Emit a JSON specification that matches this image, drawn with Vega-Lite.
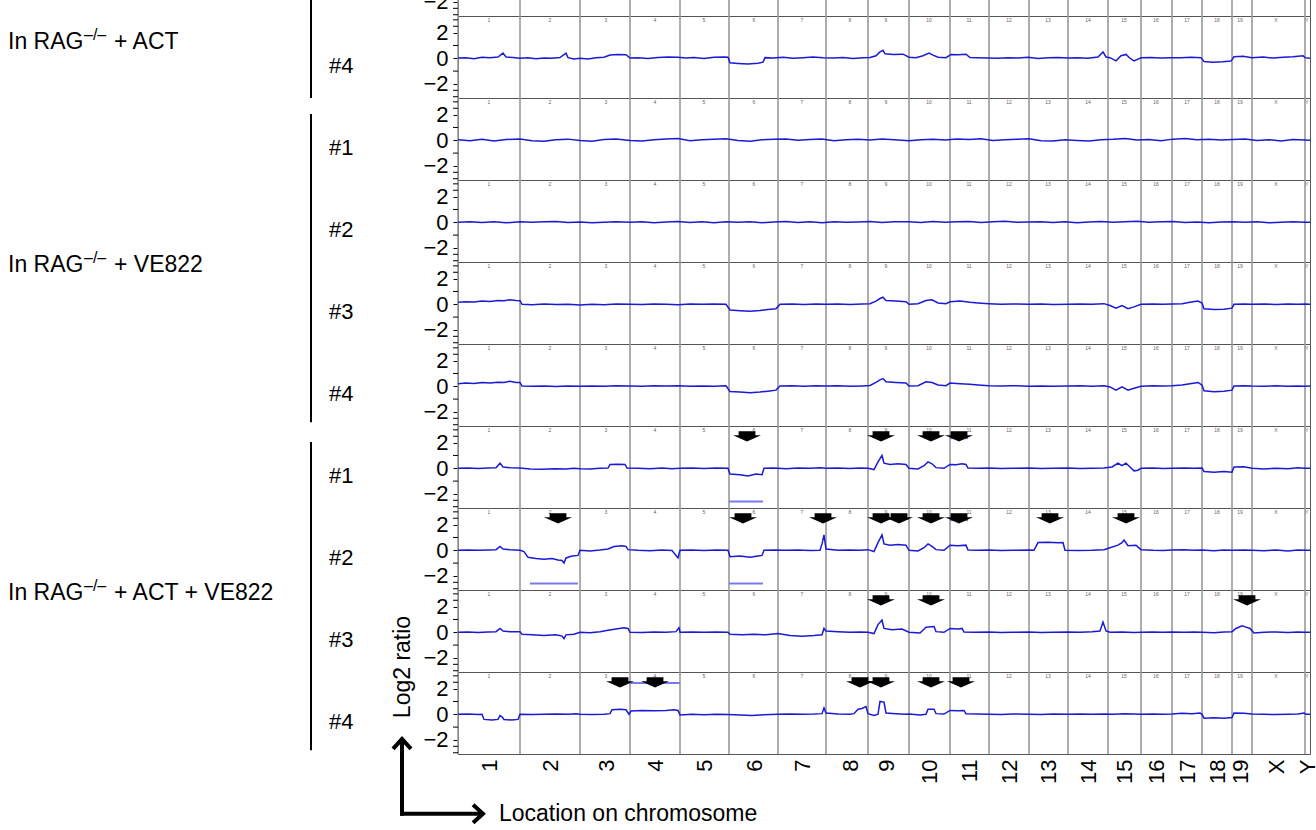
{
"$schema": "https://vega.github.io/schema/vega-lite/v6.json",
"background": "white",
"padding": {"left": 7, "top": -68, "right": 0, "bottom": 0},
"autosize": {"type": "pad"},
"datasets": {
"chroms": [
{"c":"1","s":0,"m":31},{"c":"2","s":62,"m":92},{"c":"3","s":122,"m":148},{"c":"4","s":172,"m":197},{"c":"5","s":222,"m":246},{"c":"6","s":271,"m":296},{"c":"7","s":320,"m":344},{"c":"8","s":368,"m":392},{"c":"9","s":410,"m":428},{"c":"10","s":451,"m":471},{"c":"11","s":492,"m":511},{"c":"12","s":531,"m":551},{"c":"13","s":571,"m":590},{"c":"14","s":610,"m":630},{"c":"15","s":650,"m":666},{"c":"16","s":683,"m":698},{"c":"17","s":714,"m":729},{"c":"18","s":744,"m":759},{"c":"19","s":774,"m":782},{"c":"X","s":794,"m":818},{"c":"Y","s":847,"m":849}
],
"minorticks": [{"v":-3},{"v":-2.5},{"v":-1},{"v":1},{"v":2.5},{"v":3}]
},
"data": {"values": [
{"r":0,"lab":"#3"},{"r":1,"lab":"#4"},{"r":2,"lab":"#1"},{"r":3,"lab":"#2"},{"r":4,"lab":"#3"},{"r":5,"lab":"#4"},{"r":6,"lab":"#1"},{"r":7,"lab":"#2"},{"r":8,"lab":"#3"},{"r":9,"lab":"#4"},
{"r":1,"g":"+ ACT"},{"r":4,"g":"+ VE822"},{"r":8,"g":"+ ACT + VE822"},
{"r":9,"note":"Log2 ratio","note2":"Location on chromosome"},
{"r":6,"ax":289},{"r":6,"ax":423},{"r":6,"ax":473},{"r":6,"ax":501},
{"r":7,"ax":100},{"r":7,"ax":285},{"r":7,"ax":365},{"r":7,"ax":423},{"r":7,"ax":441},{"r":7,"ax":473},{"r":7,"ax":501},{"r":7,"ax":592},{"r":7,"ax":668},
{"r":8,"ax":423},{"r":8,"ax":473},{"r":8,"ax":789},
{"r":9,"ax":162},{"r":9,"ax":197},{"r":9,"ax":402},{"r":9,"ax":423},{"r":9,"ax":473},{"r":9,"ax":503},
{"r":6,"sx":271,"sx2":305,"sy":-2.6},{"r":6,"sx":492,"sx2":510,"sy":2.35},
{"r":7,"sx":72,"sx2":120,"sy":-2.6},{"r":7,"sx":271,"sx2":305,"sy":-2.6},{"r":7,"sx":431,"sx2":451,"sy":2.45},{"r":7,"sx":492,"sx2":510,"sy":2.35},
{"r":9,"sx":172,"sx2":222,"sy":2.45},
{"r":0,"x":0,"y":0},{"r":0,"x":60,"y":0.05},{"r":0,"x":122,"y":0},{"r":0,"x":200,"y":0.03},{"r":0,"x":271,"y":-0.1},{"r":0,"x":320,"y":0.05},{"r":0,"x":410,"y":0.1},{"r":0,"x":451,"y":0},{"r":0,"x":531,"y":0.02},{"r":0,"x":650,"y":0},{"r":0,"x":744,"y":-0.1},{"r":0,"x":794,"y":0.05},{"r":0,"x":852,"y":0},
{"r":1,"x":0,"y":0.02},{"r":1,"x":8,"y":0.05},{"r":1,"x":16,"y":-0.03},{"r":1,"x":24,"y":0.08},{"r":1,"x":32,"y":0.04},{"r":1,"x":40,"y":0.1},{"r":1,"x":45,"y":0.4},{"r":1,"x":48,"y":0.1},{"r":1,"x":55,"y":0.06},{"r":1,"x":62,"y":0.0},{"r":1,"x":70,"y":0.05},{"r":1,"x":78,"y":-0.04},{"r":1,"x":86,"y":0.03},{"r":1,"x":94,"y":0.0},{"r":1,"x":102,"y":0.06},{"r":1,"x":108,"y":0.4},{"r":1,"x":110,"y":0.05},{"r":1,"x":116,"y":-0.05},{"r":1,"x":122,"y":0.0},{"r":1,"x":130,"y":-0.05},{"r":1,"x":138,"y":0.04},{"r":1,"x":146,"y":0.08},{"r":1,"x":152,"y":0.25},{"r":1,"x":160,"y":0.3},{"r":1,"x":168,"y":0.28},{"r":1,"x":172,"y":0.02},{"r":1,"x":180,"y":0.05},{"r":1,"x":190,"y":-0.02},{"r":1,"x":200,"y":0.06},{"r":1,"x":210,"y":0.1},{"r":1,"x":220,"y":0.08},{"r":1,"x":228,"y":0.02},{"r":1,"x":236,"y":0.06},{"r":1,"x":246,"y":-0.02},{"r":1,"x":256,"y":0.08},{"r":1,"x":266,"y":0.1},{"r":1,"x":270,"y":0.08},{"r":1,"x":272,"y":-0.35},{"r":1,"x":280,"y":-0.4},{"r":1,"x":290,"y":-0.45},{"r":1,"x":300,"y":-0.38},{"r":1,"x":305,"y":-0.3},{"r":1,"x":307,"y":0.05},{"r":1,"x":315,"y":0.02},{"r":1,"x":325,"y":0.08},{"r":1,"x":335,"y":0.0},{"r":1,"x":345,"y":0.05},{"r":1,"x":355,"y":0.1},{"r":1,"x":365,"y":0.04},{"r":1,"x":375,"y":0.02},{"r":1,"x":385,"y":0.06},{"r":1,"x":395,"y":-0.02},{"r":1,"x":405,"y":0.04},{"r":1,"x":412,"y":0.06},{"r":1,"x":418,"y":0.2},{"r":1,"x":422,"y":0.5},{"r":1,"x":425,"y":0.62},{"r":1,"x":427,"y":0.35},{"r":1,"x":435,"y":0.3},{"r":1,"x":445,"y":0.32},{"r":1,"x":451,"y":0.08},{"r":1,"x":458,"y":0.05},{"r":1,"x":465,"y":0.2},{"r":1,"x":471,"y":0.4},{"r":1,"x":475,"y":0.25},{"r":1,"x":480,"y":0.08},{"r":1,"x":488,"y":0.05},{"r":1,"x":493,"y":0.3},{"r":1,"x":500,"y":0.28},{"r":1,"x":508,"y":0.32},{"r":1,"x":512,"y":0.06},{"r":1,"x":520,"y":0.04},{"r":1,"x":530,"y":0.02},{"r":1,"x":540,"y":0.0},{"r":1,"x":550,"y":0.05},{"r":1,"x":560,"y":0.02},{"r":1,"x":570,"y":0.08},{"r":1,"x":580,"y":-0.02},{"r":1,"x":590,"y":0.04},{"r":1,"x":600,"y":0.06},{"r":1,"x":610,"y":0.02},{"r":1,"x":620,"y":0.05},{"r":1,"x":630,"y":0.0},{"r":1,"x":640,"y":0.1},{"r":1,"x":645,"y":0.5},{"r":1,"x":648,"y":0.1},{"r":1,"x":652,"y":0.05},{"r":1,"x":658,"y":-0.2},{"r":1,"x":663,"y":0.2},{"r":1,"x":668,"y":0.3},{"r":1,"x":672,"y":0.0},{"r":1,"x":676,"y":-0.2},{"r":1,"x":683,"y":0.04},{"r":1,"x":693,"y":0.06},{"r":1,"x":703,"y":0.02},{"r":1,"x":713,"y":0.05},{"r":1,"x":723,"y":0.04},{"r":1,"x":733,"y":0.08},{"r":1,"x":743,"y":0.05},{"r":1,"x":746,"y":-0.25},{"r":1,"x":755,"y":-0.3},{"r":1,"x":765,"y":-0.28},{"r":1,"x":773,"y":-0.22},{"r":1,"x":776,"y":0.12},{"r":1,"x":785,"y":0.15},{"r":1,"x":794,"y":0.05},{"r":1,"x":805,"y":0.1},{"r":1,"x":815,"y":0.02},{"r":1,"x":825,"y":0.08},{"r":1,"x":835,"y":0.12},{"r":1,"x":845,"y":0.2},{"r":1,"x":847,"y":0.05},{"r":1,"x":852,"y":0.0},
{"r":2,"x":0,"y":0.05},{"r":2,"x":12,"y":-0.04},{"r":2,"x":24,"y":0.08},{"r":2,"x":36,"y":-0.06},{"r":2,"x":48,"y":0.06},{"r":2,"x":62,"y":0.1},{"r":2,"x":74,"y":-0.03},{"r":2,"x":86,"y":-0.08},{"r":2,"x":98,"y":0.04},{"r":2,"x":110,"y":0.09},{"r":2,"x":122,"y":-0.02},{"r":2,"x":134,"y":-0.07},{"r":2,"x":146,"y":0.06},{"r":2,"x":158,"y":0.1},{"r":2,"x":172,"y":-0.02},{"r":2,"x":184,"y":-0.06},{"r":2,"x":196,"y":0.05},{"r":2,"x":208,"y":0.1},{"r":2,"x":220,"y":0.14},{"r":2,"x":232,"y":-0.03},{"r":2,"x":244,"y":0.05},{"r":2,"x":256,"y":0.09},{"r":2,"x":268,"y":0.12},{"r":2,"x":280,"y":-0.02},{"r":2,"x":292,"y":-0.07},{"r":2,"x":304,"y":0.04},{"r":2,"x":316,"y":0.08},{"r":2,"x":328,"y":0.1},{"r":2,"x":340,"y":0.0},{"r":2,"x":352,"y":0.07},{"r":2,"x":364,"y":0.1},{"r":2,"x":376,"y":-0.03},{"r":2,"x":388,"y":0.05},{"r":2,"x":400,"y":0.09},{"r":2,"x":412,"y":0.02},{"r":2,"x":424,"y":0.1},{"r":2,"x":436,"y":0.04},{"r":2,"x":451,"y":-0.03},{"r":2,"x":463,"y":0.05},{"r":2,"x":475,"y":0.09},{"r":2,"x":487,"y":0.02},{"r":2,"x":499,"y":0.1},{"r":2,"x":511,"y":0.06},{"r":2,"x":523,"y":0.12},{"r":2,"x":535,"y":-0.02},{"r":2,"x":547,"y":0.04},{"r":2,"x":559,"y":0.08},{"r":2,"x":571,"y":0.12},{"r":2,"x":583,"y":-0.03},{"r":2,"x":595,"y":-0.06},{"r":2,"x":607,"y":0.04},{"r":2,"x":619,"y":-0.02},{"r":2,"x":631,"y":-0.06},{"r":2,"x":643,"y":0.05},{"r":2,"x":655,"y":0.08},{"r":2,"x":667,"y":0.14},{"r":2,"x":679,"y":0.03},{"r":2,"x":691,"y":0.07},{"r":2,"x":703,"y":-0.03},{"r":2,"x":715,"y":0.09},{"r":2,"x":727,"y":0.14},{"r":2,"x":739,"y":0.05},{"r":2,"x":751,"y":0.08},{"r":2,"x":763,"y":0.02},{"r":2,"x":775,"y":0.06},{"r":2,"x":787,"y":0.1},{"r":2,"x":799,"y":-0.02},{"r":2,"x":811,"y":0.04},{"r":2,"x":823,"y":-0.05},{"r":2,"x":835,"y":0.06},{"r":2,"x":847,"y":0.03},{"r":2,"x":852,"y":0.0},
{"r":3,"x":0,"y":0.0},{"r":3,"x":12,"y":0.05},{"r":3,"x":24,"y":-0.02},{"r":3,"x":36,"y":0.04},{"r":3,"x":48,"y":-0.04},{"r":3,"x":62,"y":0.05},{"r":3,"x":74,"y":0.0},{"r":3,"x":86,"y":0.04},{"r":3,"x":98,"y":0.06},{"r":3,"x":110,"y":-0.02},{"r":3,"x":122,"y":0.03},{"r":3,"x":134,"y":-0.04},{"r":3,"x":146,"y":0.0},{"r":3,"x":158,"y":0.05},{"r":3,"x":172,"y":0.01},{"r":3,"x":184,"y":0.05},{"r":3,"x":196,"y":-0.03},{"r":3,"x":208,"y":0.03},{"r":3,"x":220,"y":0.06},{"r":3,"x":232,"y":-0.01},{"r":3,"x":244,"y":0.04},{"r":3,"x":256,"y":-0.04},{"r":3,"x":268,"y":0.05},{"r":3,"x":280,"y":0.0},{"r":3,"x":292,"y":0.04},{"r":3,"x":304,"y":-0.03},{"r":3,"x":316,"y":0.03},{"r":3,"x":328,"y":0.06},{"r":3,"x":340,"y":-0.01},{"r":3,"x":352,"y":0.04},{"r":3,"x":364,"y":-0.04},{"r":3,"x":376,"y":0.05},{"r":3,"x":388,"y":0.0},{"r":3,"x":400,"y":0.03},{"r":3,"x":412,"y":0.06},{"r":3,"x":424,"y":-0.01},{"r":3,"x":436,"y":0.04},{"r":3,"x":451,"y":0.05},{"r":3,"x":463,"y":-0.02},{"r":3,"x":475,"y":0.06},{"r":3,"x":487,"y":0.0},{"r":3,"x":499,"y":0.04},{"r":3,"x":511,"y":0.06},{"r":3,"x":523,"y":-0.01},{"r":3,"x":535,"y":0.04},{"r":3,"x":547,"y":0.08},{"r":3,"x":559,"y":0.0},{"r":3,"x":571,"y":0.03},{"r":3,"x":583,"y":0.05},{"r":3,"x":595,"y":-0.02},{"r":3,"x":607,"y":0.04},{"r":3,"x":619,"y":-0.04},{"r":3,"x":631,"y":0.03},{"r":3,"x":643,"y":0.06},{"r":3,"x":655,"y":0.0},{"r":3,"x":667,"y":0.05},{"r":3,"x":679,"y":0.08},{"r":3,"x":691,"y":0.0},{"r":3,"x":703,"y":0.04},{"r":3,"x":715,"y":0.06},{"r":3,"x":727,"y":-0.01},{"r":3,"x":739,"y":0.03},{"r":3,"x":751,"y":-0.04},{"r":3,"x":763,"y":0.02},{"r":3,"x":775,"y":0.05},{"r":3,"x":787,"y":0.0},{"r":3,"x":799,"y":0.04},{"r":3,"x":811,"y":-0.04},{"r":3,"x":823,"y":0.0},{"r":3,"x":835,"y":0.05},{"r":3,"x":847,"y":0.0},{"r":3,"x":852,"y":0.0},
{"r":4,"x":0,"y":0.15},{"r":4,"x":8,"y":0.2},{"r":4,"x":16,"y":0.18},{"r":4,"x":24,"y":0.25},{"r":4,"x":32,"y":0.22},{"r":4,"x":40,"y":0.3},{"r":4,"x":46,"y":0.28},{"r":4,"x":52,"y":0.35},{"r":4,"x":58,"y":0.3},{"r":4,"x":62,"y":0.28},{"r":4,"x":64,"y":0.0},{"r":4,"x":74,"y":-0.03},{"r":4,"x":86,"y":0.02},{"r":4,"x":98,"y":-0.02},{"r":4,"x":110,"y":0.0},{"r":4,"x":122,"y":-0.05},{"r":4,"x":134,"y":0.0},{"r":4,"x":146,"y":-0.03},{"r":4,"x":158,"y":0.02},{"r":4,"x":172,"y":0.0},{"r":4,"x":184,"y":-0.02},{"r":4,"x":196,"y":0.03},{"r":4,"x":208,"y":0.0},{"r":4,"x":220,"y":-0.03},{"r":4,"x":232,"y":0.02},{"r":4,"x":244,"y":0.0},{"r":4,"x":256,"y":0.03},{"r":4,"x":268,"y":0.0},{"r":4,"x":272,"y":-0.45},{"r":4,"x":282,"y":-0.5},{"r":4,"x":292,"y":-0.55},{"r":4,"x":302,"y":-0.48},{"r":4,"x":310,"y":-0.4},{"r":4,"x":318,"y":-0.35},{"r":4,"x":322,"y":0.0},{"r":4,"x":334,"y":0.03},{"r":4,"x":346,"y":-0.02},{"r":4,"x":358,"y":0.02},{"r":4,"x":368,"y":0.0},{"r":4,"x":380,"y":0.03},{"r":4,"x":392,"y":-0.02},{"r":4,"x":404,"y":0.02},{"r":4,"x":412,"y":0.05},{"r":4,"x":418,"y":0.25},{"r":4,"x":422,"y":0.45},{"r":4,"x":425,"y":0.55},{"r":4,"x":428,"y":0.3},{"r":4,"x":438,"y":0.25},{"r":4,"x":448,"y":0.2},{"r":4,"x":451,"y":0.0},{"r":4,"x":460,"y":0.05},{"r":4,"x":468,"y":0.3},{"r":4,"x":474,"y":0.35},{"r":4,"x":480,"y":0.1},{"r":4,"x":488,"y":0.05},{"r":4,"x":492,"y":0.2},{"r":4,"x":502,"y":0.25},{"r":4,"x":512,"y":0.15},{"r":4,"x":520,"y":0.1},{"r":4,"x":531,"y":0.05},{"r":4,"x":543,"y":0.0},{"r":4,"x":555,"y":0.03},{"r":4,"x":571,"y":0.0},{"r":4,"x":583,"y":0.02},{"r":4,"x":595,"y":-0.02},{"r":4,"x":610,"y":0.0},{"r":4,"x":622,"y":0.03},{"r":4,"x":634,"y":0.0},{"r":4,"x":646,"y":0.05},{"r":4,"x":652,"y":-0.1},{"r":4,"x":658,"y":-0.3},{"r":4,"x":664,"y":-0.1},{"r":4,"x":670,"y":-0.35},{"r":4,"x":676,"y":-0.2},{"r":4,"x":683,"y":0.0},{"r":4,"x":695,"y":0.03},{"r":4,"x":705,"y":0.0},{"r":4,"x":714,"y":0.02},{"r":4,"x":724,"y":0.05},{"r":4,"x":732,"y":0.15},{"r":4,"x":740,"y":0.25},{"r":4,"x":744,"y":0.1},{"r":4,"x":746,"y":-0.35},{"r":4,"x":756,"y":-0.4},{"r":4,"x":766,"y":-0.38},{"r":4,"x":774,"y":-0.3},{"r":4,"x":776,"y":0.0},{"r":4,"x":786,"y":0.02},{"r":4,"x":794,"y":0.0},{"r":4,"x":806,"y":0.03},{"r":4,"x":818,"y":-0.02},{"r":4,"x":830,"y":0.02},{"r":4,"x":840,"y":0.0},{"r":4,"x":847,"y":0.02},{"r":4,"x":852,"y":0.0},
{"r":5,"x":0,"y":0.2},{"r":5,"x":8,"y":0.25},{"r":5,"x":16,"y":0.22},{"r":5,"x":24,"y":0.3},{"r":5,"x":32,"y":0.25},{"r":5,"x":40,"y":0.32},{"r":5,"x":46,"y":0.3},{"r":5,"x":52,"y":0.4},{"r":5,"x":58,"y":0.3},{"r":5,"x":62,"y":0.3},{"r":5,"x":64,"y":0.02},{"r":5,"x":74,"y":0.0},{"r":5,"x":86,"y":0.03},{"r":5,"x":98,"y":-0.02},{"r":5,"x":110,"y":0.02},{"r":5,"x":122,"y":0.0},{"r":5,"x":134,"y":0.03},{"r":5,"x":146,"y":0.0},{"r":5,"x":158,"y":0.04},{"r":5,"x":172,"y":0.02},{"r":5,"x":184,"y":0.0},{"r":5,"x":196,"y":0.04},{"r":5,"x":208,"y":0.02},{"r":5,"x":220,"y":0.05},{"r":5,"x":232,"y":0.0},{"r":5,"x":244,"y":0.03},{"r":5,"x":256,"y":0.0},{"r":5,"x":268,"y":0.04},{"r":5,"x":272,"y":-0.4},{"r":5,"x":282,"y":-0.45},{"r":5,"x":292,"y":-0.5},{"r":5,"x":302,"y":-0.45},{"r":5,"x":310,"y":-0.38},{"r":5,"x":318,"y":-0.3},{"r":5,"x":322,"y":0.02},{"r":5,"x":334,"y":0.05},{"r":5,"x":346,"y":0.0},{"r":5,"x":358,"y":0.04},{"r":5,"x":368,"y":0.02},{"r":5,"x":380,"y":0.05},{"r":5,"x":392,"y":0.0},{"r":5,"x":404,"y":0.03},{"r":5,"x":412,"y":0.06},{"r":5,"x":418,"y":0.3},{"r":5,"x":422,"y":0.5},{"r":5,"x":425,"y":0.6},{"r":5,"x":428,"y":0.35},{"r":5,"x":438,"y":0.3},{"r":5,"x":448,"y":0.25},{"r":5,"x":451,"y":0.02},{"r":5,"x":460,"y":0.05},{"r":5,"x":468,"y":0.35},{"r":5,"x":474,"y":0.3},{"r":5,"x":480,"y":0.1},{"r":5,"x":488,"y":0.05},{"r":5,"x":492,"y":0.25},{"r":5,"x":502,"y":0.2},{"r":5,"x":512,"y":0.15},{"r":5,"x":520,"y":0.1},{"r":5,"x":531,"y":0.05},{"r":5,"x":543,"y":0.02},{"r":5,"x":555,"y":0.05},{"r":5,"x":571,"y":0.0},{"r":5,"x":583,"y":0.03},{"r":5,"x":595,"y":0.0},{"r":5,"x":610,"y":0.02},{"r":5,"x":622,"y":0.05},{"r":5,"x":634,"y":0.0},{"r":5,"x":646,"y":0.04},{"r":5,"x":652,"y":-0.05},{"r":5,"x":658,"y":-0.3},{"r":5,"x":664,"y":-0.05},{"r":5,"x":670,"y":-0.3},{"r":5,"x":676,"y":-0.15},{"r":5,"x":683,"y":0.0},{"r":5,"x":695,"y":0.04},{"r":5,"x":705,"y":0.02},{"r":5,"x":714,"y":0.04},{"r":5,"x":724,"y":0.1},{"r":5,"x":732,"y":0.2},{"r":5,"x":740,"y":0.3},{"r":5,"x":744,"y":0.1},{"r":5,"x":746,"y":-0.35},{"r":5,"x":756,"y":-0.42},{"r":5,"x":766,"y":-0.38},{"r":5,"x":774,"y":-0.3},{"r":5,"x":776,"y":0.02},{"r":5,"x":786,"y":0.05},{"r":5,"x":794,"y":0.02},{"r":5,"x":806,"y":0.0},{"r":5,"x":818,"y":0.04},{"r":5,"x":830,"y":0.0},{"r":5,"x":840,"y":0.03},{"r":5,"x":847,"y":0.0},{"r":5,"x":852,"y":0.02},
{"r":6,"x":0,"y":0.0},{"r":6,"x":10,"y":0.02},{"r":6,"x":20,"y":-0.02},{"r":6,"x":30,"y":0.03},{"r":6,"x":38,"y":0.05},{"r":6,"x":42,"y":0.4},{"r":6,"x":45,"y":0.1},{"r":6,"x":52,"y":0.05},{"r":6,"x":62,"y":0.02},{"r":6,"x":72,"y":-0.05},{"r":6,"x":84,"y":-0.08},{"r":6,"x":96,"y":-0.03},{"r":6,"x":108,"y":-0.06},{"r":6,"x":116,"y":0.0},{"r":6,"x":122,"y":-0.03},{"r":6,"x":132,"y":-0.05},{"r":6,"x":142,"y":0.0},{"r":6,"x":150,"y":0.02},{"r":6,"x":152,"y":0.3},{"r":6,"x":160,"y":0.32},{"r":6,"x":167,"y":0.3},{"r":6,"x":169,"y":0.02},{"r":6,"x":180,"y":0.0},{"r":6,"x":192,"y":-0.03},{"r":6,"x":204,"y":0.02},{"r":6,"x":214,"y":-0.04},{"r":6,"x":222,"y":0.0},{"r":6,"x":234,"y":0.02},{"r":6,"x":246,"y":-0.02},{"r":6,"x":258,"y":0.03},{"r":6,"x":270,"y":0.0},{"r":6,"x":272,"y":-0.45},{"r":6,"x":282,"y":-0.5},{"r":6,"x":290,"y":-0.6},{"r":6,"x":298,"y":-0.45},{"r":6,"x":304,"y":-0.5},{"r":6,"x":306,"y":0.0},{"r":6,"x":316,"y":0.02},{"r":6,"x":328,"y":-0.03},{"r":6,"x":340,"y":0.02},{"r":6,"x":352,"y":0.0},{"r":6,"x":362,"y":0.04},{"r":6,"x":368,"y":0.0},{"r":6,"x":380,"y":0.02},{"r":6,"x":392,"y":-0.02},{"r":6,"x":402,"y":0.03},{"r":6,"x":410,"y":0.0},{"r":6,"x":416,"y":-0.1},{"r":6,"x":420,"y":0.5},{"r":6,"x":424,"y":1.0},{"r":6,"x":426,"y":0.4},{"r":6,"x":432,"y":0.3},{"r":6,"x":440,"y":0.35},{"r":6,"x":448,"y":0.3},{"r":6,"x":451,"y":0.0},{"r":6,"x":460,"y":-0.05},{"r":6,"x":466,"y":0.2},{"r":6,"x":470,"y":0.5},{"r":6,"x":474,"y":0.35},{"r":6,"x":478,"y":0.05},{"r":6,"x":486,"y":0.0},{"r":6,"x":492,"y":0.3},{"r":6,"x":498,"y":0.28},{"r":6,"x":504,"y":0.35},{"r":6,"x":508,"y":0.3},{"r":6,"x":510,"y":0.02},{"r":6,"x":520,"y":0.0},{"r":6,"x":531,"y":0.02},{"r":6,"x":543,"y":-0.02},{"r":6,"x":555,"y":0.0},{"r":6,"x":571,"y":0.02},{"r":6,"x":583,"y":-0.02},{"r":6,"x":595,"y":0.0},{"r":6,"x":610,"y":0.02},{"r":6,"x":622,"y":-0.02},{"r":6,"x":634,"y":0.0},{"r":6,"x":646,"y":0.02},{"r":6,"x":654,"y":0.1},{"r":6,"x":660,"y":0.4},{"r":6,"x":664,"y":0.2},{"r":6,"x":668,"y":0.4},{"r":6,"x":672,"y":0.1},{"r":6,"x":676,"y":-0.2},{"r":6,"x":680,"y":-0.15},{"r":6,"x":683,"y":0.0},{"r":6,"x":695,"y":0.02},{"r":6,"x":705,"y":-0.02},{"r":6,"x":714,"y":0.0},{"r":6,"x":726,"y":0.03},{"r":6,"x":736,"y":0.0},{"r":6,"x":744,"y":0.02},{"r":6,"x":746,"y":-0.25},{"r":6,"x":756,"y":-0.3},{"r":6,"x":766,"y":-0.25},{"r":6,"x":774,"y":-0.3},{"r":6,"x":776,"y":0.1},{"r":6,"x":786,"y":0.12},{"r":6,"x":794,"y":0.0},{"r":6,"x":806,"y":-0.05},{"r":6,"x":818,"y":0.0},{"r":6,"x":830,"y":-0.03},{"r":6,"x":840,"y":0.05},{"r":6,"x":846,"y":0.0},{"r":6,"x":852,"y":0.0},
{"r":7,"x":0,"y":0.0},{"r":7,"x":10,"y":0.02},{"r":7,"x":20,"y":0.0},{"r":7,"x":30,"y":0.03},{"r":7,"x":38,"y":0.05},{"r":7,"x":42,"y":0.3},{"r":7,"x":45,"y":0.1},{"r":7,"x":52,"y":0.05},{"r":7,"x":62,"y":0.0},{"r":7,"x":66,"y":-0.1},{"r":7,"x":70,"y":-0.55},{"r":7,"x":78,"y":-0.65},{"r":7,"x":86,"y":-0.7},{"r":7,"x":94,"y":-0.65},{"r":7,"x":100,"y":-0.75},{"r":7,"x":104,"y":-0.8},{"r":7,"x":106,"y":-1.0},{"r":7,"x":108,"y":-0.6},{"r":7,"x":114,"y":-0.45},{"r":7,"x":120,"y":-0.4},{"r":7,"x":122,"y":0.0},{"r":7,"x":132,"y":-0.05},{"r":7,"x":142,"y":0.02},{"r":7,"x":150,"y":0.1},{"r":7,"x":156,"y":0.3},{"r":7,"x":164,"y":0.35},{"r":7,"x":168,"y":0.3},{"r":7,"x":170,"y":0.05},{"r":7,"x":180,"y":0.0},{"r":7,"x":192,"y":-0.03},{"r":7,"x":204,"y":0.02},{"r":7,"x":214,"y":-0.02},{"r":7,"x":220,"y":-0.6},{"r":7,"x":222,"y":0.0},{"r":7,"x":234,"y":0.02},{"r":7,"x":246,"y":-0.02},{"r":7,"x":258,"y":0.02},{"r":7,"x":270,"y":0.0},{"r":7,"x":272,"y":-0.5},{"r":7,"x":282,"y":-0.45},{"r":7,"x":292,"y":-0.55},{"r":7,"x":300,"y":-0.45},{"r":7,"x":304,"y":-0.4},{"r":7,"x":306,"y":0.0},{"r":7,"x":316,"y":0.02},{"r":7,"x":328,"y":0.0},{"r":7,"x":340,"y":0.02},{"r":7,"x":352,"y":-0.02},{"r":7,"x":362,"y":0.0},{"r":7,"x":364,"y":0.5},{"r":7,"x":366,"y":1.2},{"r":7,"x":368,"y":0.1},{"r":7,"x":380,"y":0.0},{"r":7,"x":392,"y":0.02},{"r":7,"x":402,"y":0.0},{"r":7,"x":410,"y":0.05},{"r":7,"x":416,"y":-0.1},{"r":7,"x":420,"y":0.6},{"r":7,"x":424,"y":1.2},{"r":7,"x":426,"y":0.5},{"r":7,"x":432,"y":0.4},{"r":7,"x":440,"y":0.45},{"r":7,"x":448,"y":0.4},{"r":7,"x":451,"y":0.0},{"r":7,"x":460,"y":-0.05},{"r":7,"x":466,"y":0.2},{"r":7,"x":470,"y":0.5},{"r":7,"x":474,"y":0.3},{"r":7,"x":478,"y":0.05},{"r":7,"x":486,"y":0.0},{"r":7,"x":492,"y":0.4},{"r":7,"x":500,"y":0.35},{"r":7,"x":508,"y":0.4},{"r":7,"x":510,"y":0.02},{"r":7,"x":520,"y":0.0},{"r":7,"x":531,"y":0.02},{"r":7,"x":543,"y":-0.02},{"r":7,"x":555,"y":0.0},{"r":7,"x":571,"y":0.02},{"r":7,"x":576,"y":0.0},{"r":7,"x":580,"y":0.6},{"r":7,"x":590,"y":0.62},{"r":7,"x":600,"y":0.58},{"r":7,"x":605,"y":0.6},{"r":7,"x":607,"y":0.0},{"r":7,"x":620,"y":-0.02},{"r":7,"x":634,"y":0.0},{"r":7,"x":646,"y":0.05},{"r":7,"x":652,"y":0.2},{"r":7,"x":660,"y":0.4},{"r":7,"x":664,"y":0.6},{"r":7,"x":666,"y":0.8},{"r":7,"x":670,"y":0.35},{"r":7,"x":678,"y":0.4},{"r":7,"x":683,"y":0.05},{"r":7,"x":695,"y":0.0},{"r":7,"x":705,"y":-0.02},{"r":7,"x":714,"y":0.02},{"r":7,"x":726,"y":0.05},{"r":7,"x":736,"y":0.0},{"r":7,"x":744,"y":0.02},{"r":7,"x":756,"y":-0.03},{"r":7,"x":766,"y":0.02},{"r":7,"x":774,"y":0.0},{"r":7,"x":786,"y":0.03},{"r":7,"x":794,"y":0.0},{"r":7,"x":806,"y":-0.03},{"r":7,"x":818,"y":0.02},{"r":7,"x":830,"y":-0.05},{"r":7,"x":840,"y":0.02},{"r":7,"x":847,"y":0.0},{"r":7,"x":852,"y":0.0},
{"r":8,"x":0,"y":0.0},{"r":8,"x":10,"y":0.02},{"r":8,"x":20,"y":-0.02},{"r":8,"x":30,"y":0.03},{"r":8,"x":38,"y":0.05},{"r":8,"x":42,"y":0.3},{"r":8,"x":45,"y":0.1},{"r":8,"x":52,"y":0.05},{"r":8,"x":62,"y":0.05},{"r":8,"x":64,"y":-0.15},{"r":8,"x":74,"y":-0.2},{"r":8,"x":86,"y":-0.25},{"r":8,"x":98,"y":-0.2},{"r":8,"x":104,"y":-0.3},{"r":8,"x":106,"y":-0.5},{"r":8,"x":108,"y":-0.2},{"r":8,"x":116,"y":-0.15},{"r":8,"x":122,"y":0.0},{"r":8,"x":132,"y":-0.03},{"r":8,"x":142,"y":0.05},{"r":8,"x":150,"y":0.15},{"r":8,"x":158,"y":0.25},{"r":8,"x":166,"y":0.35},{"r":8,"x":170,"y":0.3},{"r":8,"x":172,"y":0.0},{"r":8,"x":184,"y":-0.02},{"r":8,"x":196,"y":0.02},{"r":8,"x":208,"y":0.0},{"r":8,"x":218,"y":0.05},{"r":8,"x":221,"y":0.35},{"r":8,"x":222,"y":0.0},{"r":8,"x":234,"y":0.02},{"r":8,"x":246,"y":0.0},{"r":8,"x":258,"y":0.02},{"r":8,"x":270,"y":0.0},{"r":8,"x":272,"y":-0.15},{"r":8,"x":284,"y":-0.2},{"r":8,"x":296,"y":-0.15},{"r":8,"x":308,"y":-0.2},{"r":8,"x":320,"y":-0.1},{"r":8,"x":332,"y":-0.25},{"r":8,"x":344,"y":-0.3},{"r":8,"x":356,"y":-0.25},{"r":8,"x":364,"y":-0.2},{"r":8,"x":366,"y":0.3},{"r":8,"x":368,"y":0.1},{"r":8,"x":380,"y":0.05},{"r":8,"x":392,"y":0.0},{"r":8,"x":402,"y":0.02},{"r":8,"x":410,"y":0.0},{"r":8,"x":416,"y":-0.1},{"r":8,"x":420,"y":0.6},{"r":8,"x":424,"y":0.95},{"r":8,"x":426,"y":0.3},{"r":8,"x":434,"y":0.2},{"r":8,"x":444,"y":0.25},{"r":8,"x":451,"y":0.0},{"r":8,"x":462,"y":-0.05},{"r":8,"x":468,"y":0.4},{"r":8,"x":476,"y":0.45},{"r":8,"x":478,"y":0.05},{"r":8,"x":486,"y":0.0},{"r":8,"x":492,"y":0.3},{"r":8,"x":500,"y":0.25},{"r":8,"x":504,"y":0.3},{"r":8,"x":506,"y":0.02},{"r":8,"x":516,"y":0.0},{"r":8,"x":531,"y":0.02},{"r":8,"x":543,"y":-0.02},{"r":8,"x":555,"y":0.0},{"r":8,"x":571,"y":0.02},{"r":8,"x":583,"y":-0.02},{"r":8,"x":595,"y":0.0},{"r":8,"x":610,"y":0.02},{"r":8,"x":622,"y":0.0},{"r":8,"x":634,"y":0.05},{"r":8,"x":642,"y":0.1},{"r":8,"x":645,"y":0.8},{"r":8,"x":648,"y":0.1},{"r":8,"x":652,"y":0.0},{"r":8,"x":664,"y":0.02},{"r":8,"x":676,"y":-0.02},{"r":8,"x":683,"y":0.0},{"r":8,"x":695,"y":0.02},{"r":8,"x":705,"y":0.0},{"r":8,"x":714,"y":0.02},{"r":8,"x":726,"y":0.0},{"r":8,"x":736,"y":0.03},{"r":8,"x":744,"y":0.0},{"r":8,"x":756,"y":-0.03},{"r":8,"x":766,"y":0.02},{"r":8,"x":774,"y":0.05},{"r":8,"x":778,"y":0.3},{"r":8,"x":784,"y":0.5},{"r":8,"x":788,"y":0.4},{"r":8,"x":792,"y":0.3},{"r":8,"x":796,"y":-0.05},{"r":8,"x":806,"y":0.0},{"r":8,"x":818,"y":0.03},{"r":8,"x":830,"y":-0.02},{"r":8,"x":840,"y":0.02},{"r":8,"x":847,"y":0.0},{"r":8,"x":852,"y":0.0},
{"r":9,"x":0,"y":0.0},{"r":9,"x":10,"y":0.02},{"r":9,"x":20,"y":-0.02},{"r":9,"x":24,"y":0.0},{"r":9,"x":26,"y":-0.4},{"r":9,"x":34,"y":-0.45},{"r":9,"x":40,"y":-0.4},{"r":9,"x":42,"y":-0.1},{"r":9,"x":44,"y":-0.2},{"r":9,"x":46,"y":-0.4},{"r":9,"x":54,"y":-0.45},{"r":9,"x":60,"y":-0.4},{"r":9,"x":62,"y":0.0},{"r":9,"x":74,"y":-0.02},{"r":9,"x":86,"y":0.0},{"r":9,"x":98,"y":0.02},{"r":9,"x":110,"y":0.0},{"r":9,"x":118,"y":0.05},{"r":9,"x":122,"y":0.0},{"r":9,"x":134,"y":-0.02},{"r":9,"x":146,"y":0.0},{"r":9,"x":152,"y":0.05},{"r":9,"x":154,"y":0.35},{"r":9,"x":162,"y":0.4},{"r":9,"x":168,"y":0.35},{"r":9,"x":171,"y":0.0},{"r":9,"x":173,"y":0.25},{"r":9,"x":184,"y":0.3},{"r":9,"x":196,"y":0.28},{"r":9,"x":208,"y":0.3},{"r":9,"x":216,"y":0.35},{"r":9,"x":220,"y":0.3},{"r":9,"x":222,"y":-0.05},{"r":9,"x":234,"y":0.0},{"r":9,"x":246,"y":-0.03},{"r":9,"x":258,"y":0.0},{"r":9,"x":270,"y":-0.02},{"r":9,"x":282,"y":-0.05},{"r":9,"x":294,"y":-0.1},{"r":9,"x":306,"y":-0.03},{"r":9,"x":320,"y":0.0},{"r":9,"x":332,"y":0.02},{"r":9,"x":344,"y":0.0},{"r":9,"x":356,"y":0.02},{"r":9,"x":364,"y":0.05},{"r":9,"x":366,"y":0.5},{"r":9,"x":368,"y":0.1},{"r":9,"x":380,"y":0.02},{"r":9,"x":392,"y":0.0},{"r":9,"x":396,"y":0.05},{"r":9,"x":400,"y":0.4},{"r":9,"x":404,"y":0.45},{"r":9,"x":408,"y":0.6},{"r":9,"x":410,"y":0.05},{"r":9,"x":416,"y":-0.1},{"r":9,"x":420,"y":0.0},{"r":9,"x":422,"y":1.0},{"r":9,"x":426,"y":0.95},{"r":9,"x":428,"y":0.1},{"r":9,"x":438,"y":0.05},{"r":9,"x":448,"y":0.0},{"r":9,"x":451,"y":0.02},{"r":9,"x":462,"y":-0.05},{"r":9,"x":468,"y":0.0},{"r":9,"x":470,"y":0.4},{"r":9,"x":476,"y":0.4},{"r":9,"x":478,"y":0.05},{"r":9,"x":486,"y":0.02},{"r":9,"x":492,"y":0.3},{"r":9,"x":500,"y":0.28},{"r":9,"x":506,"y":0.3},{"r":9,"x":508,"y":0.05},{"r":9,"x":520,"y":0.02},{"r":9,"x":531,"y":0.0},{"r":9,"x":543,"y":-0.02},{"r":9,"x":555,"y":0.02},{"r":9,"x":571,"y":0.0},{"r":9,"x":583,"y":-0.02},{"r":9,"x":595,"y":0.02},{"r":9,"x":610,"y":0.0},{"r":9,"x":622,"y":0.02},{"r":9,"x":634,"y":0.0},{"r":9,"x":646,"y":0.02},{"r":9,"x":656,"y":0.0},{"r":9,"x":666,"y":0.05},{"r":9,"x":676,"y":0.02},{"r":9,"x":683,"y":0.0},{"r":9,"x":695,"y":0.03},{"r":9,"x":705,"y":0.0},{"r":9,"x":714,"y":0.02},{"r":9,"x":724,"y":0.08},{"r":9,"x":734,"y":0.05},{"r":9,"x":742,"y":0.1},{"r":9,"x":744,"y":0.0},{"r":9,"x":746,"y":-0.3},{"r":9,"x":756,"y":-0.28},{"r":9,"x":766,"y":-0.3},{"r":9,"x":774,"y":-0.25},{"r":9,"x":776,"y":0.1},{"r":9,"x":786,"y":0.08},{"r":9,"x":794,"y":0.02},{"r":9,"x":806,"y":0.0},{"r":9,"x":818,"y":-0.02},{"r":9,"x":830,"y":0.0},{"r":9,"x":840,"y":0.03},{"r":9,"x":846,"y":0.1},{"r":9,"x":848,"y":0.0},{"r":9,"x":852,"y":0.0}
]},
"facet": {"row": {"field": "r", "type": "ordinal", "header": {"labels": false, "title": null}}},
"spacing": 0,
"bounds": "flush",
"spec": {
"width": 852,
"height": 82,
"layer": [
{"data": {"name": "chroms"}, "mark": {"type": "rule", "color": "#999999", "strokeWidth": 1.6}, "encoding": {"x": {"field": "s", "type": "quantitative", "title": null}}},
{"data": {"name": "chroms"}, "mark": {"type": "text", "fontSize": 5, "color": "#666666", "baseline": "middle"}, "encoding": {"x": {"field": "m", "type": "quantitative", "title": null}, "y": {"datum": 3.02}, "text": {"field": "c"}}},
{"data": {"name": "minorticks"}, "mark": {"type": "rule", "color": "#000000", "strokeWidth": 1, "clip": false}, "encoding": {"x": {"datum": -5}, "x2": {"datum": 0}, "y": {"field": "v", "type": "quantitative", "title": null}}},
{"transform": [{"filter": "isValid(datum.sx)"}], "mark": {"type": "rule", "color": "#7a7af0", "strokeWidth": 2}, "encoding": {"x": {"field": "sx", "type": "quantitative", "title": null}, "x2": {"field": "sx2"}, "y": {"field": "sy", "type": "quantitative", "title": null}}},
{"transform": [{"filter": "isValid(datum.y)"}], "mark": {"type": "line", "color": "#1a1ad6", "strokeWidth": 1.5, "clip": true},
 "encoding": {
  "x": {"field": "x", "type": "quantitative", "title": null, "scale": {"domain": [0, 852], "nice": false, "zero": false},
   "axis": {"values": [31,92,148,197,246,296,344,392,428,471,511,551,590,630,666,698,729,759,782,818,849],
    "labelExpr": "['1','2','3','4','5','6','7','8','9','10','11','12','13','14','15','16','17','18','19','X','Y'][indexof([31,92,148,197,246,296,344,392,428,471,511,551,590,630,666,698,729,759,782,818,849], datum.value)]",
    "labelAngle": -90, "labelAlign": "right", "labelBaseline": "middle", "labelFontSize": 22, "labelColor": "#000000", "labelPadding": 5, "labelFlush": false, "labelOverlap": false, "ticks": false, "domain": false, "grid": false}},
  "y": {"field": "y", "type": "quantitative", "title": null, "scale": {"domain": [-3.1, 3.3], "nice": false, "zero": false},
   "axis": {"values": [-2, 0, 2], "labelFontSize": 22, "labelColor": "#000000", "labelPadding": 5, "labelOverlap": false, "labelFlush": false, "labelBound": false, "tickSize": 5, "tickColor": "#000000", "tickWidth": 1, "domainColor": "#888888", "grid": false}}
 }},
{"transform": [{"filter": "isValid(datum.ax)"}], "mark": {"type": "point", "shape": "M-0.6,-0.36L0.6,-0.36L0.6,-0.08L1,-0.08L0,0.37L-1,-0.08L-0.6,-0.08Z", "size": 784, "filled": true, "color": "#000000", "opacity": 1}, "encoding": {"x": {"field": "ax", "type": "quantitative", "title": null}, "y": {"datum": 2.5}}},
{"transform": [{"filter": "isValid(datum.lab)"}], "mark": {"type": "text", "fontSize": 22, "align": "left", "baseline": "middle", "color": "#000000", "clip": false}, "encoding": {"x": {"datum": -129}, "y": {"datum": -0.6}, "text": {"field": "lab"}}},
{"transform": [{"filter": "isValid(datum.g) && datum.r == 1"}], "mark": {"type": "text", "fontSize": 23, "align": "left", "baseline": "middle", "color": "#000000", "text": "In RAG"}, "encoding": {"x": {"datum": -450}, "y": {"datum": 1.27}}},
{"transform": [{"filter": "isValid(datum.g) && datum.r == 1"}], "mark": {"type": "text", "fontSize": 16, "align": "left", "baseline": "middle", "color": "#000000", "text": "–/–", "dx": 76, "dy": -7}, "encoding": {"x": {"datum": -450}, "y": {"datum": 1.27}}},
{"transform": [{"filter": "isValid(datum.g) && datum.r == 1"}], "mark": {"type": "text", "fontSize": 23, "align": "left", "baseline": "middle", "color": "#000000", "dx": 106}, "encoding": {"x": {"datum": -450}, "y": {"datum": 1.27}, "text": {"field": "g"}}},
{"transform": [{"filter": "isValid(datum.g) && datum.r != 1"}], "mark": {"type": "text", "fontSize": 23, "align": "left", "baseline": "middle", "color": "#000000", "text": "In RAG"}, "encoding": {"x": {"datum": -450}, "y": {"datum": 3.1}}},
{"transform": [{"filter": "isValid(datum.g) && datum.r != 1"}], "mark": {"type": "text", "fontSize": 16, "align": "left", "baseline": "middle", "color": "#000000", "text": "–/–", "dx": 76, "dy": -7}, "encoding": {"x": {"datum": -450}, "y": {"datum": 3.1}}},
{"transform": [{"filter": "isValid(datum.g) && datum.r != 1"}], "mark": {"type": "text", "fontSize": 23, "align": "left", "baseline": "middle", "color": "#000000", "dx": 106}, "encoding": {"x": {"datum": -450}, "y": {"datum": 3.1}, "text": {"field": "g"}}},
{"transform": [{"filter": "isValid(datum.lab) && indexof([0,1,3,4,7,8], datum.r) >= 0"}], "mark": {"type": "rule", "color": "#000000", "strokeWidth": 2}, "encoding": {"x": {"datum": -147}, "y": {"datum": -3.1}, "y2": {"datum": 3.3}}},
{"transform": [{"filter": "isValid(datum.lab) && indexof([2,6], datum.r) >= 0"}], "mark": {"type": "rule", "color": "#000000", "strokeWidth": 2}, "encoding": {"x": {"datum": -147}, "y": {"datum": -3.1}, "y2": {"datum": 2.05}}},
{"transform": [{"filter": "isValid(datum.lab) && indexof([5,9], datum.r) >= 0"}], "mark": {"type": "rule", "color": "#000000", "strokeWidth": 2}, "encoding": {"x": {"datum": -147}, "y": {"datum": -2.8}, "y2": {"datum": 3.3}}},
{"transform": [{"filter": "isValid(datum.note)"}], "mark": {"type": "text", "fontSize": 23, "angle": 270, "align": "center", "baseline": "middle", "color": "#000000"}, "encoding": {"x": {"datum": -55}, "y": {"datum": 3.69}, "text": {"field": "note"}}},
{"transform": [{"filter": "isValid(datum.note)"}], "mark": {"type": "text", "fontSize": 23, "align": "left", "baseline": "middle", "color": "#000000"}, "encoding": {"x": {"datum": 41}, "y": {"datum": -7.78}, "text": {"field": "note2"}}},
{"transform": [{"filter": "isValid(datum.note)"}], "mark": {"type": "rule", "color": "#000000", "strokeWidth": 4, "strokeCap": "square"}, "encoding": {"x": {"datum": -56}, "y": {"datum": -2.0}, "y2": {"datum": -7.76}}},
{"transform": [{"filter": "isValid(datum.note)"}], "mark": {"type": "rule", "color": "#000000", "strokeWidth": 4, "strokeCap": "square"}, "encoding": {"x": {"datum": -56}, "x2": {"datum": 23}, "y": {"datum": -7.76}}},
{"transform": [{"filter": "isValid(datum.note)"}], "mark": {"type": "point", "shape": "M-1,0.55L0,-0.55L1,0.55", "size": 324, "filled": false, "stroke": "#000000", "strokeWidth": 4, "opacity": 1, "strokeJoin": "miter"}, "encoding": {"x": {"datum": -56}, "y": {"datum": -2.32}}},
{"transform": [{"filter": "isValid(datum.note)"}], "mark": {"type": "point", "shape": "M-0.55,-1L0.55,0L-0.55,1", "size": 324, "filled": false, "stroke": "#000000", "strokeWidth": 4, "opacity": 1, "strokeJoin": "miter"}, "encoding": {"x": {"datum": 20}, "y": {"datum": -7.76}}}
]
},
"config": {
"font": "Liberation Sans",
"view": {"stroke": "#555555", "strokeWidth": 1},
"axis": {"grid": false}
}
}
